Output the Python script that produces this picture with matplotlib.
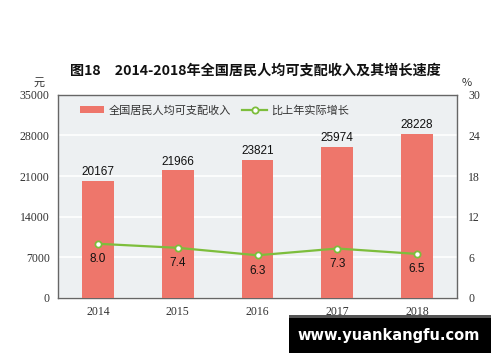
import matplotlib
matplotlib.use("Agg")
import matplotlib.pyplot as plt
from matplotlib.patches import Rectangle

plt.rcParams['font.family'] = ['Noto Sans CJK SC', 'DejaVu Sans']

years = ["2014", "2015", "2016", "2017", "2018"]
income = [20167, 21966, 23821, 25974, 28228]
growth = [8.0, 7.4, 6.3, 7.3, 6.5]
left_ticks = [0, 7000, 14000, 21000, 28000, 35000]
right_ticks = [0, 6, 12, 18, 24, 30]

bar_color = "#ee766b"
line_color = "#7dbe3c"
bg = "#edf0f2"

fig = plt.figure(figsize=(5, 3.62), dpi=100)
ax = fig.add_axes([0.116, 0.177, 0.798, 0.561])
ax.set_facecolor(bg)
x = list(range(len(years)))
bars = ax.bar(x, income, width=0.4, color=bar_color, zorder=3, label="全国居民人均可支配收入")
ax.set_xlim(-0.5, 4.5)
ax.set_ylim(0, 35000)
ax.set_yticks(left_ticks)
ax.set_yticklabels([str(v) for v in left_ticks], family="Liberation Serif", fontsize=8.5, color="#333333")
ax.set_xticks(x)
ax.set_xticklabels(years, family="Liberation Serif", fontsize=8.5, color="#333333")
ax.tick_params(length=0, pad=6)
ax.grid(axis="y", color="white", linewidth=1.2, zorder=0)
for s in ax.spines.values():
    s.set_color("#666666")
    s.set_linewidth(1.0)
for xi, v in zip(x, income):
    ax.text(xi, v + 500, str(v), ha="center", va="bottom", fontsize=8.5,
            family="Liberation Sans", color="#111111", zorder=5)

ax2 = ax.twinx()
ax2.set_ylim(0, 30)
ax2.set_yticks(right_ticks)
ax2.set_yticklabels([str(v) for v in right_ticks], family="Liberation Serif", fontsize=8.5, color="#333333")
ax2.tick_params(length=0, pad=8)
for s in ax2.spines.values():
    s.set_visible(False)
ln, = ax2.plot(x, growth, color=line_color, linewidth=1.6, marker="o", markersize=4.5,
               markerfacecolor="white", markeredgecolor=line_color, markeredgewidth=1.3,
               zorder=4, label="比上年实际增长")
for xi, v in zip(x, growth):
    ax2.text(xi, v - 1.4, f"{v:.1f}", ha="center", va="top", fontsize=8.5,
             family="Liberation Sans", color="#111111", zorder=5)

ax.legend(handles=[bars, ln], loc="upper left", bbox_to_anchor=(0.03, 1.0), ncol=2,
          frameon=False, fontsize=8, handlelength=2.2, handletextpad=0.4,
          columnspacing=1.0, labelcolor="#333333")

fig.text(0.51, 0.805, "图18　2014-2018年全国居民人均可支配收入及其增长速度",
         ha="center", va="center", fontsize=10.2, fontweight="bold", color="#111111")
fig.text(0.078, 0.772, "元", ha="center", va="center", fontsize=8, color="#333333")
fig.text(0.934, 0.772, "%", ha="center", va="center", fontsize=8, color="#333333")

fig.patches.append(Rectangle((0.578, 0.025), 0.404, 0.105, transform=fig.transFigure,
                             facecolor="black", edgecolor="none", zorder=10))
fig.patches.append(Rectangle((0.578, 0.122), 0.404, 0.008, transform=fig.transFigure,
                             facecolor="#555555", edgecolor="none", zorder=11))
fig.text(0.778, 0.072, "www.yuankangfu.com", ha="center", va="center", fontsize=10.5,
         fontweight="bold", color="white", family="DejaVu Sans", zorder=12)

fig.savefig("out.png", dpi=100, facecolor="white")
